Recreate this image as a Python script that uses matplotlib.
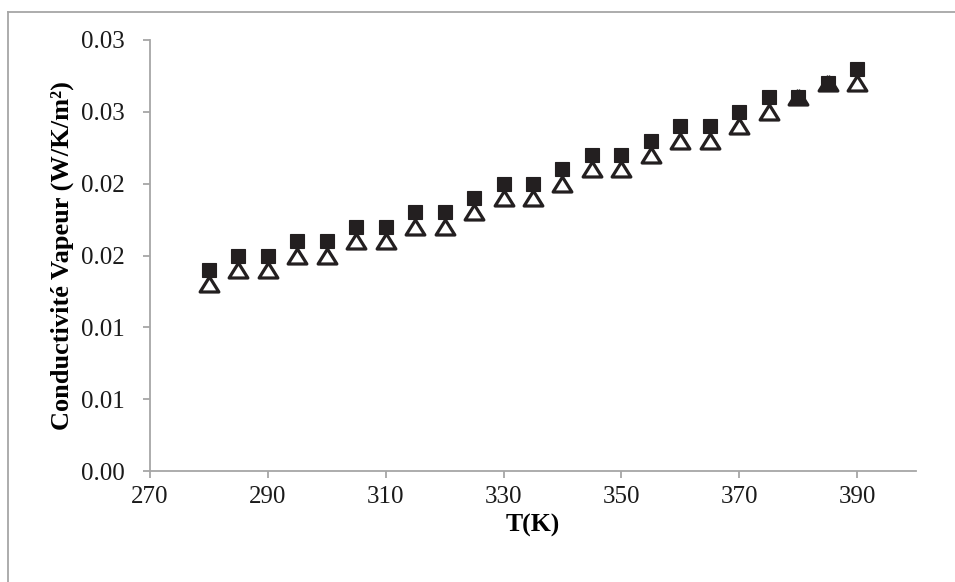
import matplotlib.pyplot as plt
from matplotlib.lines import Line2D

# temperature (K) and vapour conductivity, two series
T = [280, 285, 290, 295, 300, 305, 310, 315, 320, 325, 330, 335,
     340, 345, 350, 355, 360, 365, 370, 375, 380, 385, 390]
k_square = [0.014, 0.015, 0.015, 0.016, 0.016, 0.017, 0.017, 0.018, 0.018, 0.019, 0.020, 0.020,
            0.021, 0.022, 0.022, 0.023, 0.024, 0.024, 0.025, 0.026, 0.026, 0.027, 0.028]
k_triangle = [0.013, 0.014, 0.014, 0.015, 0.015, 0.016, 0.016, 0.017, 0.017, 0.018, 0.019, 0.019,
              0.020, 0.021, 0.021, 0.022, 0.023, 0.023, 0.024, 0.025, 0.026, 0.027, 0.027]

y_ticks = [0.0, 0.005, 0.01, 0.015, 0.02, 0.025, 0.03]
y_tick_labels = ['0.00', '0.01', '0.01', '0.02', '0.02', '0.03', '0.03']
x_ticks = [270, 290, 310, 330, 350, 370, 390]

plt.rcParams['font.family'] = ['Liberation Serif', 'DejaVu Serif']
grey = '#a6a6a6'

fig = plt.figure(figsize=(9.55, 5.82), dpi=100)
ax = fig.add_axes([150/955, 1-471/582, 766/955, 431/582])

tri = [(0, 0.8), (-1, -0.8), (1, -0.8), (0, 0.8)]
ax.plot(T, k_triangle, linestyle='none', marker=tri, ms=13.5, mfc='white', mec='#231f20', mew=2.3,
        clip_on=False, zorder=3)
ax.plot(T, k_square, linestyle='none', marker='s', ms=10.3, mfc='#231f20', mec='#231f20', mew=0.8,
        clip_on=False, zorder=4)

ax.set_xlim(270, 400)
ax.set_ylim(0, 0.03)
ax.set_xticks(x_ticks)
ax.set_xticklabels([str(v) for v in x_ticks])
ax.set_yticks(y_ticks)
ax.set_yticklabels(y_tick_labels)

for s in ['top', 'right']:
    ax.spines[s].set_visible(False)
for s in ['left', 'bottom']:
    ax.spines[s].set_color(grey)
    ax.spines[s].set_linewidth(1.3)

ax.tick_params(axis='both', colors=grey, labelcolor='#1a1a1a', labelsize=18, length=5, width=1.3)
ax.tick_params(axis='y', pad=13)
ax.tick_params(axis='x', pad=6)

ax.set_xlabel('T(K)', fontsize=18.5, fontweight='bold', labelpad=4)
ax.set_ylabel('Conductivité Vapeur (W/K/m²)', fontsize=19, fontweight='bold', labelpad=5)

# chart border (left and top edges only visible)
fig.add_artist(Line2D([7.5/955, 7.5/955], [0, 1-11.5/582], color=grey, lw=1.3, transform=fig.transFigure))
fig.add_artist(Line2D([7.5/955, 1], [1-11.5/582, 1-11.5/582], color=grey, lw=1.3, transform=fig.transFigure))

fig.savefig('out.png', dpi=100)
